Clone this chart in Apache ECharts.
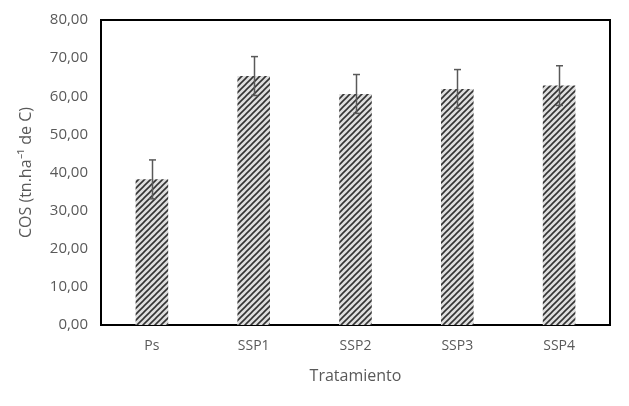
<!DOCTYPE html>
<html><head><meta charset="utf-8">
<script src="https://cdn.jsdelivr.net/npm/echarts@6/dist/echarts.min.js"></script>
<style>html,body{margin:0;padding:0;background:#fff}#c{width:629px;height:406px}</style>
</head><body><div id="c"></div>
<script>
const categories = ['Ps', 'SSP1', 'SSP2', 'SSP3', 'SSP4'];
const values = [38.2, 65.3, 60.6, 61.9, 62.8];
const errors = [5.1, 5.1, 5.1, 5.1, 5.2];
const yTicks = [0, 10, 20, 30, 40, 50, 60, 70, 80];

function makePattern() {
  const s = 6;
  const c = document.createElement('canvas');
  c.width = s; c.height = s;
  const g = c.getContext('2d');
  g.fillStyle = '#dedede';
  g.fillRect(0, 0, s, s);
  g.strokeStyle = '#333333';
  g.lineWidth = 1.6;
  g.beginPath();
  g.moveTo(-1, s + 1); g.lineTo(s + 1, -1);
  g.moveTo(-1, 1); g.lineTo(1, -1);
  g.moveTo(s - 1, s + 1); g.lineTo(s + 1, s - 1);
  g.stroke();
  return c;
}

const font = '"Open Sans", "Liberation Sans", sans-serif';
const chart = echarts.init(document.getElementById('c'), null, {renderer: 'canvas'});
chart.setOption({
  animation: false,
  grid: {left: 101, right: 19, top: 20, bottom: 81, show: true, borderColor: '#000', borderWidth: 2},
  xAxis: {
    type: 'category', data: categories,
    name: 'Tratamiento', nameLocation: 'middle', nameGap: 43,
    nameTextStyle: {fontFamily: font, fontSize: 16, color: '#595959'},
    axisLine: {show: true, lineStyle: {color: '#000', width: 2}},
    axisTick: {show: false},
    axisLabel: {fontFamily: font, fontSize: 14, color: '#595959', margin: 14}
  },
  yAxis: {
    type: 'value', min: 0, max: 80, interval: 10,
    name: 'COS (tn.ha⁻¹ de C)', nameLocation: 'middle', nameGap: 67,
    nameTextStyle: {fontFamily: font, fontSize: 16, color: '#595959'},
    axisLine: {show: false}, axisTick: {show: false},
    splitLine: {show: false},
    axisLabel: {fontFamily: font, fontSize: 15, color: '#595959', margin: 13,
      formatter: v => yTicks.includes(v) ? v.toFixed(2).replace('.', ',') : ''}
  },
  series: [
    {
      type: 'bar', data: values, barWidth: '32%',
      itemStyle: {color: {image: makePattern(), repeat: 'repeat'}}
    },
    {
      type: 'custom',
      data: values.map((v, i) => [i, v - errors[i], v + errors[i]]),
      renderItem: function (params, api) {
        const lo = api.coord([api.value(0), api.value(1)]);
        const hi = api.coord([api.value(0), api.value(2)]);
        const x = Math.round(lo[0]) + 0.5;
        const hw = 3.5;
        const st = {stroke: '#595959', lineWidth: 1.5};
        return {type: 'group', children: [
          {type: 'line', shape: {x1: x, y1: lo[1], x2: x, y2: hi[1]}, style: st},
          {type: 'line', shape: {x1: x - hw, y1: hi[1], x2: x + hw, y2: hi[1]}, style: st},
          {type: 'line', shape: {x1: x - hw, y1: lo[1], x2: x + hw, y2: lo[1]}, style: st}
        ]};
      },
      z: 5
    }
  ]
});
</script></body></html>
